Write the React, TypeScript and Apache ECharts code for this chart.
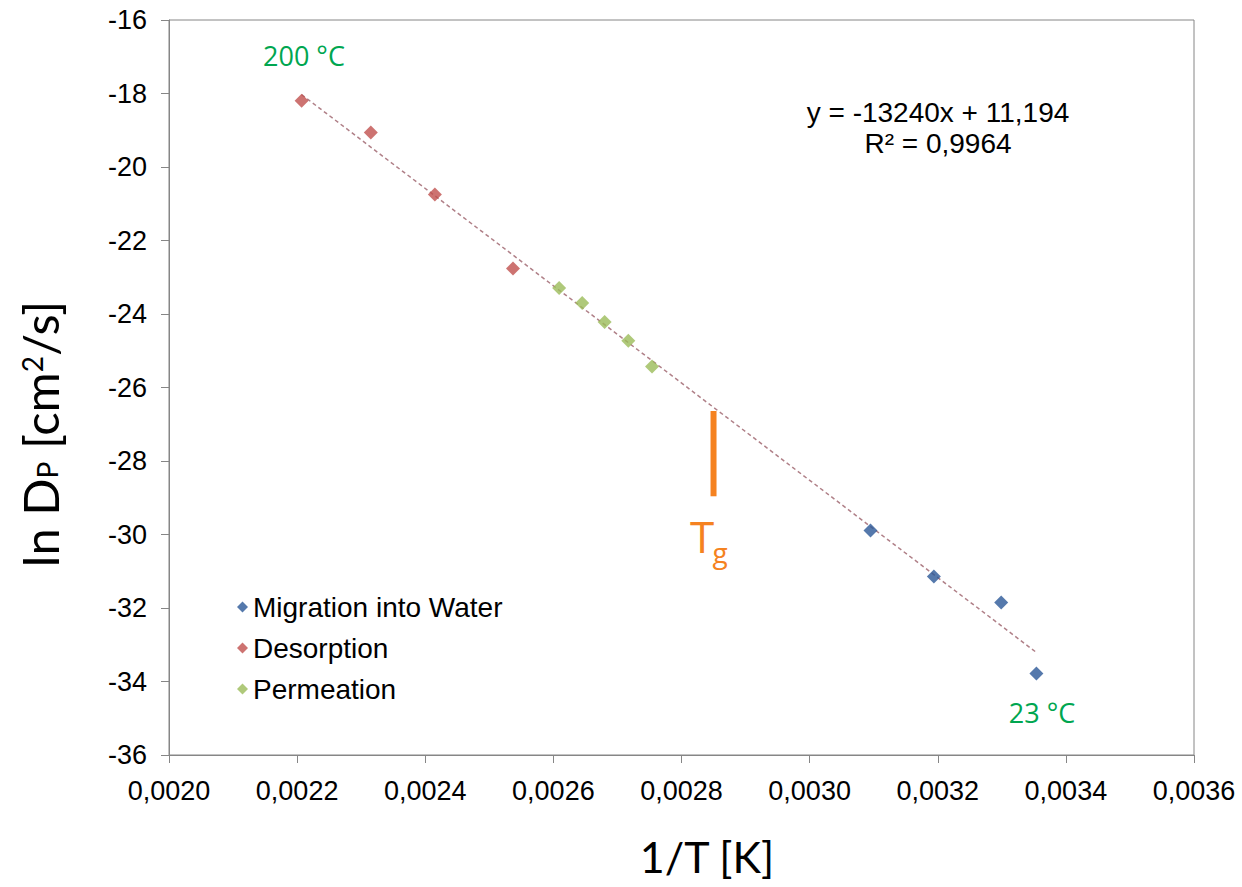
import React, { useEffect, useRef } from "react";
import * as echarts from "echarts";

const migrationX = [0.003095, 0.003194, 0.003299, 0.003354];
const migrationY = [-29.89, -31.14, -31.85, -33.78];
const desorptionX = [0.002207, 0.002315, 0.002415, 0.002537];
const desorptionY = [-18.2, -19.06, -20.75, -22.76];
const permeationX = [0.002609, 0.002645, 0.00268, 0.002717, 0.002754];
const permeationY = [-23.29, -23.7, -24.22, -24.73, -25.43];
const trendX = [0.002207, 0.003354];
const trendY = [-18.03, -33.21];
const tgX = [0.00285, 0.00285];
const tgY = [-26.64, -28.96];
const seriesNames = ["Migration into Water", "Desorption", "Permeation"];
const seriesColors = ["#2B5797", "#C0504D", "#9BBB59"];
const equationLines = ["y = -13240x + 11,194", "R² = 0,9964"];

const zip = (xs: number[], ys: number[]) => xs.map((x, i) => [x, ys[i]]);

export default function App() {
  const ref = useRef<HTMLDivElement>(null);
  useEffect(() => {
    if (!ref.current) return;
    const chart = echarts.init(ref.current, null, { renderer: "svg" });
    const arial = "'Liberation Sans', Arial, sans-serif";
    const sans = "'Open Sans', 'Noto Sans', sans-serif";
    const lato = "Lato, 'Open Sans', sans-serif";
    const scatter = (name: string, xs: number[], ys: number[], color: string) => ({
      name,
      type: "scatter",
      data: zip(xs, ys),
      symbol: "diamond",
      symbolSize: 14,
      itemStyle: { color },
      z: 5,
    });
    chart.setOption({
      animation: false,
      backgroundColor: "#ffffff",
      grid: {
        left: 169,
        right: 48,
        top: 20,
        bottom: 132,
        show: true,
        borderColor: "#868686",
        borderWidth: 1,
      },
      xAxis: {
        type: "value",
        min: 0.002,
        max: 0.0036,
        interval: 0.0002,
        splitLine: { show: false },
        axisLine: { onZero: false, lineStyle: { color: "#868686" } },
        axisTick: { show: true, length: 8, lineStyle: { color: "#868686" } },
        axisLabel: {
          margin: 22,
          fontSize: 27,
          fontFamily: arial,
          color: "#000",
          formatter: (v: number) => v.toFixed(4).replace(".", ","),
        },
      },
      yAxis: {
        type: "value",
        min: -36,
        max: -16,
        interval: 2,
        splitLine: { show: false },
        axisLine: { onZero: false, lineStyle: { color: "#868686" } },
        axisTick: { show: true, length: 8, lineStyle: { color: "#868686" } },
        axisLabel: {
          margin: 22,
          fontSize: 27,
          fontFamily: arial,
          color: "#000",
        },
      },
      legend: {
        data: seriesNames.map((n) => ({ name: n })),
        orient: "vertical",
        left: 232,
        top: 586,
        icon: "diamond",
        itemWidth: 11,
        itemHeight: 11,
        itemGap: 9,
        textStyle: { fontSize: 28, fontFamily: arial, color: "#000", lineHeight: 32 },
      },
      series: [
        {
          name: "trend",
          type: "line",
          data: zip(trendX, trendY),
          symbol: "none",
          lineStyle: { color: "#B08088", width: 1.5, type: [4, 3] },
          z: 2,
          silent: true,
        },
        {
          name: "Tg",
          type: "line",
          data: zip(tgX, tgY),
          symbol: "none",
          lineStyle: { color: "#F58220", width: 6 },
          z: 3,
          silent: true,
        },
        scatter(seriesNames[0], migrationX, migrationY, seriesColors[0]),
        scatter(seriesNames[1], desorptionX, desorptionY, seriesColors[1]),
        scatter(seriesNames[2], permeationX, permeationY, seriesColors[2]),
      ],
      graphic: [
        {
          type: "text",
          x: 707,
          y: 856,
          style: { text: "1/T [K]", font: `43px ${lato}`, fill: "#000", align: "center", verticalAlign: "middle" },
        },
        {
          type: "text",
          x: 40,
          y: 434,
          rotation: Math.PI / 2,
          style: {
            text: "ln D{sub|P} [cm{sup|2}/s]",
            font: `49px ${lato}`,
            fill: "#000",
            align: "center",
            verticalAlign: "middle",
            lineHeight: 56,
            rich: {
              sub: { font: `28px ${lato}`, fill: "#000", lineHeight: 28, verticalAlign: "bottom", padding: [0, 0, 7, 0] },
              sup: { font: `28px ${lato}`, fill: "#000", lineHeight: 28, verticalAlign: "top", padding: [6, 0, 0, 0] },
            },
          },
        },
        {
          type: "text",
          x: 938,
          y: 112,
          style: { text: equationLines[0], font: `28px ${arial}`, fill: "#000", align: "center", verticalAlign: "middle" },
        },
        {
          type: "text",
          x: 938,
          y: 143,
          style: { text: equationLines[1], font: `28px ${arial}`, fill: "#000", align: "center", verticalAlign: "middle" },
        },
        {
          type: "text",
          x: 304,
          y: 55,
          style: { text: "200 °C", font: `27px ${sans}`, fill: "#00A650", align: "center", verticalAlign: "middle" },
        },
        {
          type: "text",
          x: 1042,
          y: 712,
          style: { text: "23 °C", font: `27px ${sans}`, fill: "#00A650", align: "center", verticalAlign: "middle" },
        },
        {
          type: "text",
          x: 702,
          y: 536,
          style: { text: "T", font: `44px ${sans}`, fill: "#F58220", align: "center", verticalAlign: "middle" },
        },
        {
          type: "text",
          x: 720,
          y: 552,
          style: { text: "g", font: `28px ${sans}`, fill: "#F58220", align: "center", verticalAlign: "middle" },
        },
      ],
    });
    return () => chart.dispose();
  }, []);
  return (
    <div
      ref={ref}
      style={{ position: "fixed", left: 0, top: 0, width: 1242, height: 887, background: "#fff" }}
    />
  );
}
